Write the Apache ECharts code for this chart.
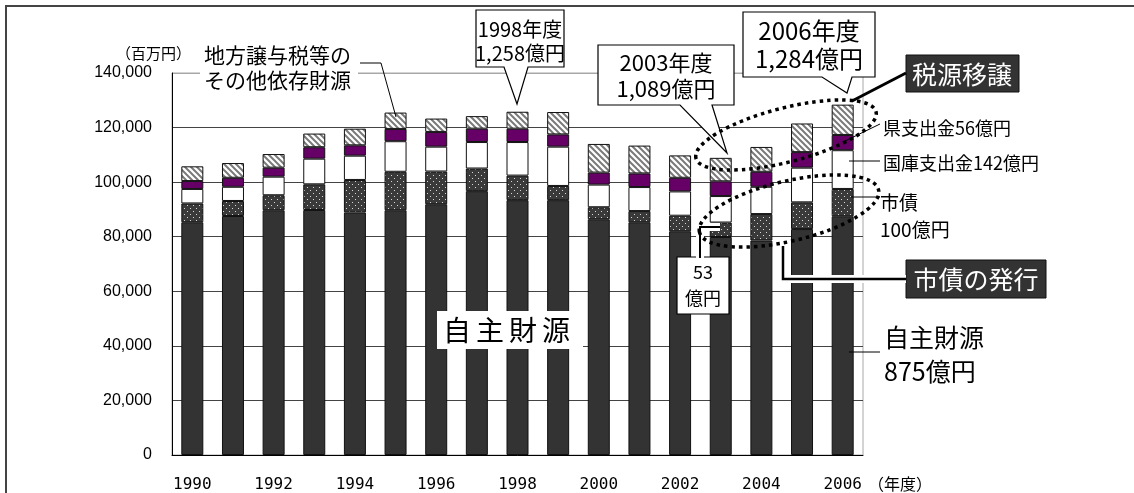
<!DOCTYPE html>
<html><head><meta charset="utf-8">
<script src="https://cdn.jsdelivr.net/npm/echarts@6/dist/echarts.min.js"></script>
<style>html,body{margin:0;padding:0;background:#fff}#c{width:1134px;height:493px}</style>
</head><body><div id="c"></div>
<script>
const years = ['1990','1991','1992','1993','1994','1995','1996','1997','1998','1999','2000','2001','2002','2003','2004','2005','2006'];
const jishu  = [85300, 87600, 89700, 89800, 88900, 89700, 91900, 96700, 93400, 93400, 86400, 85300, 82000, 79900, 78600, 82800, 87500];
const shisai = [6900, 5500, 5500, 9400, 11900, 14100, 12000, 8300, 9000, 5200, 4400, 4100, 5700, 5300, 9700, 9800, 10000];
const kokko  = [5300, 5200, 6800, 9400, 8900, 11200, 9100, 9700, 12300, 14400, 8300, 8800, 8900, 9700, 10000, 12700, 14200];
const ken    = [2900, 3300, 3300, 4200, 3800, 4500, 5400, 4900, 4900, 4500, 4400, 5000, 5000, 5400, 5500, 5700, 5600];
const sonota = [5400, 5400, 5000, 5000, 6100, 6000, 4900, 4600, 6200, 8200, 10500, 10200, 8200, 8600, 9100, 10500, 11100];
const yTicks = [0, 20000, 40000, 60000, 80000, 100000, 120000, 140000];

const JP = '"Noto Sans CJK JP", sans-serif';

function hatch(){
  const c=document.createElement('canvas'); c.width=6; c.height=6;
  const g=c.getContext('2d'); g.fillStyle='#fff'; g.fillRect(0,0,6,6);
  g.strokeStyle='#7a7a7a'; g.lineWidth=2; g.beginPath();
  for(let k=-1;k<=1;k++){ g.moveTo(-1,-1+k*6); g.lineTo(7,7+k*6); }
  g.stroke(); return c;
}
function dots(){
  const c=document.createElement('canvas'); c.width=6; c.height=6;
  const g=c.getContext('2d'); g.fillStyle='#3a3a3a'; g.fillRect(0,0,6,6);
  g.fillStyle='#d8d8d8'; g.fillRect(1,1,1,1); g.fillRect(4,4,1,1);
  return c;
}
const border = {borderColor:'#111', borderWidth:1};
function ser(name, data, color){
  return {name, type:'bar', stack:'t', data, barWidth:22, itemStyle:Object.assign({color}, border), emphasis:{disabled:true}, animation:false};
}

const chart = echarts.init(document.getElementById('c'), null, {renderer:'canvas'});

function T(x,y,text,size,opt){
  opt=opt||{};
  return {type:'text', x, y, z:120, style:{text, font: (opt.weight||'normal')+' '+size+'px '+(opt.family||JP), fill:opt.fill||'#000',
    textAlign:opt.align||'left', align:opt.align||'left', textVerticalAlign:'middle', verticalAlign:'middle'}};
}
function R(x,y,w,h,fill,stroke,lw){
  return {type:'rect', z:110, shape:{x,y,width:w,height:h}, style:{fill, stroke:stroke||null, lineWidth:lw||0}};
}
function L(points,w,color,z){
  return {type:'polyline', z:z||115, shape:{points}, style:{stroke:color||'#000', lineWidth:w, fill:null}};
}
function bubble(x0,y0,x1,y1,b1,b2,tx,ty){
  return {type:'polygon', z:110, shape:{points:[[x0,y0],[x1,y0],[x1,y1],[b2,y1],[tx,ty],[b1,y1],[x0,y1]]}, style:{fill:'#fff', stroke:'#000', lineWidth:1.2}};
}
function ell(cx,cy,rx,ry,rot){
  return {type:'ellipse', z:116, x:cx, y:cy, rotation:rot, shape:{cx:0,cy:0,rx,ry}, style:{fill:null, stroke:'#000', lineWidth:3.5, lineDash:[3.5,4]}};
}

const midLabel = '自主財源'.split('').map((ch,i)=>T(443+i*33,330,ch,28));

const graphics = [
  {type:'rect', z:100, shape:{x:6,y:6,width:1200,height:600}, style:{fill:null, stroke:'#444', lineWidth:2}},
  T(116,53,'（百万円）',15),
  R(200,40,158,54,'#fff'),
  T(204,55,'地方譲与税等の',21),
  T(204,80,'その他依存財源',21),
  L([[360,63],[381,63],[396,117]],1),
  bubble(476,10,564,67,504,528,517,104),
  T(520,29,'1998年度',20,{align:'center'}),
  T(520,53,'1,258億円',20,{align:'center'}),
  bubble(598,45,734,105,680,712,727,153),
  T(666,63,'2003年度',22,{align:'center'}),
  T(666,89,'1,089億円',22,{align:'center'}),
  bubble(743,12,875,77,822,852,847,93),
  T(809,31,'2006年度',24,{align:'center'}),
  T(809,59,'1,284億円',24,{align:'center'}),
  L([[906,73],[852,101]],3),
  R(906,55,113,37,'#333','#111',1),
  T(962,74,'税源移譲',25,{align:'center',fill:'#fff'}),
  ell(786,135,93,27,0.253),
  ell(789,211,92,30,0.232),
  L([[906,279],[783,279],[783,246]],8,'#fff',113),
  L([[906,279],[783,279],[783,246]],2.5),
  R(906,260,140,38,'#333','#111',1),
  T(976,279,'市債の発行',25,{align:'center',fill:'#fff'}),
  L([[880,124],[843,142]],1),
  T(883,128,'県支出金56億円',18),
  L([[849,161],[880,161]],1),
  T(883,163,'国庫支出金142億円',18),
  L([[851,197],[880,197]],1),
  T(880,203,'市債',19),
  T(880,230,'100億円',19),
  L([[849,352],[880,352]],1),
  T(884,337,'自主財源',25),
  T(884,371,'875億円',25),
  R(437,311,146,38,'#fff'),
  ...midLabel,
  L([[700,258],[700,227],[720,227]],8,'#fff',113),
  L([[700,258],[700,227],[720,227]],2),
  R(677,257,52,57,'#fff','#000',1.2),
  T(703,272,'53',18,{align:'center'}),
  T(703,298,'億円',18,{align:'center'}),
  T(868,484,'（年度）',16)
];

chart.setOption({
  animation:false,
  grid:{left:172, right:271, top:73, bottom:38, show:true, borderColor:'#a8a8a8', borderWidth:1, backgroundColor:'transparent'},
  xAxis:{type:'category', data:years,
    axisLine:{lineStyle:{color:'#000', width:1}},
    axisTick:{inside:true, length:5, interval:0, lineStyle:{color:'#000'}},
    axisLabel:{interval:1, margin:22, color:'#000', fontSize:16, fontFamily:'"DejaVu Sans Mono", monospace'}},
  yAxis:{type:'value', min:yTicks[0], max:yTicks[yTicks.length-1], interval:yTicks[1]-yTicks[0],
    axisLine:{show:true, lineStyle:{color:'#000', width:1}},
    axisTick:{show:false},
    axisLabel:{margin:20, color:'#000', fontSize:16, fontFamily:'"Liberation Sans", Arial, sans-serif',
      formatter:v=>v.toLocaleString('en-US')},
    splitLine:{lineStyle:{color:['#444','#444','#444','#444','#444','#444','#444','#a8a8a8'], width:1}}},
  series:[
    ser('自主財源', jishu, '#333333'),
    ser('市債', shisai, {image:dots(), repeat:'repeat'}),
    ser('国庫支出金', kokko, '#ffffff'),
    ser('県支出金', ken, '#660066'),
    ser('その他依存財源', sonota, {image:hatch(), repeat:'repeat'})
  ],
  graphic:{elements:graphics}
});
</script></body></html>
